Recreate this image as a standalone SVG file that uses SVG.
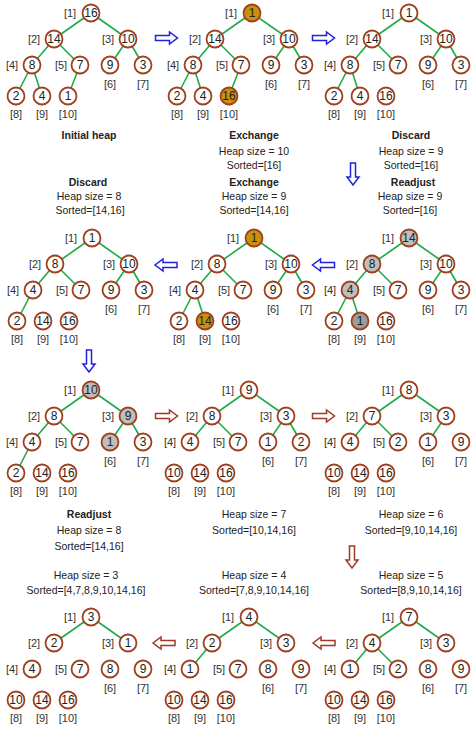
<svg xmlns="http://www.w3.org/2000/svg" xmlns:xlink="http://www.w3.org/1999/xlink" width="475" height="730" viewBox="0 0 475 730">
<style>
  text { font-family: "Liberation Sans", Arial, sans-serif; fill: #222; dominant-baseline: central; text-anchor: middle; }
  .node circle { fill: #fff; stroke: #A0401E; stroke-width: 1.8; }
  .node circle.gold { fill: #C8900C; }
  .node circle.gray { fill: #BEBEBE; }
  .node circle.dark { fill: #9C9C9C; }
  .node text { font-size: 12px; }
  .node text.idx { font-size: 11px; fill: #333; }
  .edges line { stroke: #1FAA4A; stroke-width: 1.6; }
  .cap { font-size: 10.5px; }
  .cap.b { font-weight: bold; }
  .arr-blue { fill: #fff; stroke: #2222DD; stroke-width: 1.5; }
  .arr-red { fill: #fff; stroke: #9E3B22; stroke-width: 1.5; }
</style>
<defs>
  <polygon id="blk" points="-11,-2.5 3,-2.5 3,-6 11,0 3,6 3,2.5 -11,2.5"/>
</defs>

<!-- step arrows and tree edges -->
<g id="connectors">
  <use xlink:href="#blk" class="arr-blue" transform="translate(166.5,38)"/>
  <use xlink:href="#blk" class="arr-blue" transform="translate(323.5,38)"/>
  <use xlink:href="#blk" class="arr-blue" transform="translate(353,174) rotate(90)"/>
  <use xlink:href="#blk" class="arr-blue" transform="translate(323.5,265) rotate(180)"/>
  <use xlink:href="#blk" class="arr-blue" transform="translate(166,265) rotate(180)"/>
  <use xlink:href="#blk" class="arr-blue" transform="translate(89,361) rotate(90)"/>
  <use xlink:href="#blk" class="arr-red" transform="translate(166.5,416)"/>
  <use xlink:href="#blk" class="arr-red" transform="translate(323.5,416)"/>
  <use xlink:href="#blk" class="arr-red" transform="translate(352,557) rotate(90)"/>
  <use xlink:href="#blk" class="arr-red" transform="translate(324,643) rotate(180)"/>
  <use xlink:href="#blk" class="arr-red" transform="translate(164,643) rotate(180)"/>

  <g class="edges" transform="translate(0,0)">
    <line x1="91" y1="13" x2="54" y2="39"/><line x1="91" y1="13" x2="128" y2="39"/>
    <line x1="54" y1="39" x2="32" y2="65"/><line x1="54" y1="39" x2="80" y2="65"/>
    <line x1="128" y1="39" x2="110" y2="65"/><line x1="128" y1="39" x2="143" y2="65"/>
    <line x1="32" y1="65" x2="16" y2="96"/><line x1="32" y1="65" x2="42" y2="96"/>
    <line x1="80" y1="65" x2="68" y2="96"/>
  </g>
  <g class="edges" transform="translate(161,0)">
    <line x1="91" y1="13" x2="54" y2="39"/><line x1="91" y1="13" x2="128" y2="39"/>
    <line x1="54" y1="39" x2="32" y2="65"/><line x1="54" y1="39" x2="80" y2="65"/>
    <line x1="128" y1="39" x2="110" y2="65"/><line x1="128" y1="39" x2="143" y2="65"/>
    <line x1="32" y1="65" x2="16" y2="96"/><line x1="32" y1="65" x2="42" y2="96"/>
    <line x1="80" y1="65" x2="68" y2="96"/>
  </g>
  <g class="edges" transform="translate(318,0)">
    <line x1="91" y1="13" x2="54" y2="39"/><line x1="91" y1="13" x2="128" y2="39"/>
    <line x1="54" y1="39" x2="32" y2="65"/><line x1="54" y1="39" x2="80" y2="65"/>
    <line x1="128" y1="39" x2="110" y2="65"/><line x1="128" y1="39" x2="143" y2="65"/>
    <line x1="32" y1="65" x2="16" y2="96"/><line x1="32" y1="65" x2="42" y2="96"/>
  </g>
  <g class="edges" transform="translate(1,225)">
    <line x1="91" y1="13" x2="54" y2="39"/><line x1="91" y1="13" x2="128" y2="39"/>
    <line x1="54" y1="39" x2="32" y2="65"/><line x1="54" y1="39" x2="80" y2="65"/>
    <line x1="128" y1="39" x2="110" y2="65"/><line x1="128" y1="39" x2="143" y2="65"/>
    <line x1="32" y1="65" x2="16" y2="96"/>
  </g>
  <g class="edges" transform="translate(163,225)">
    <line x1="91" y1="13" x2="54" y2="39"/><line x1="91" y1="13" x2="128" y2="39"/>
    <line x1="54" y1="39" x2="32" y2="65"/><line x1="54" y1="39" x2="80" y2="65"/>
    <line x1="128" y1="39" x2="110" y2="65"/><line x1="128" y1="39" x2="143" y2="65"/>
    <line x1="32" y1="65" x2="16" y2="96"/><line x1="32" y1="65" x2="42" y2="96"/>
  </g>
  <g class="edges" transform="translate(318,225)">
    <line x1="91" y1="13" x2="54" y2="39"/><line x1="91" y1="13" x2="128" y2="39"/>
    <line x1="54" y1="39" x2="32" y2="65"/><line x1="54" y1="39" x2="80" y2="65"/>
    <line x1="128" y1="39" x2="110" y2="65"/><line x1="128" y1="39" x2="143" y2="65"/>
    <line x1="32" y1="65" x2="16" y2="96"/><line x1="32" y1="65" x2="42" y2="96"/>
  </g>
  <g class="edges" transform="translate(0,377)">
    <line x1="91" y1="13" x2="54" y2="39"/><line x1="91" y1="13" x2="128" y2="39"/>
    <line x1="54" y1="39" x2="32" y2="65"/><line x1="54" y1="39" x2="80" y2="65"/>
    <line x1="128" y1="39" x2="110" y2="65"/><line x1="128" y1="39" x2="143" y2="65"/>
    <line x1="32" y1="65" x2="16" y2="96"/>
  </g>
  <g class="edges" transform="translate(158,377)">
    <line x1="91" y1="13" x2="54" y2="39"/><line x1="91" y1="13" x2="128" y2="39"/>
    <line x1="54" y1="39" x2="32" y2="65"/><line x1="54" y1="39" x2="80" y2="65"/>
    <line x1="128" y1="39" x2="110" y2="65"/><line x1="128" y1="39" x2="143" y2="65"/>
  </g>
  <g class="edges" transform="translate(318,377)">
    <line x1="91" y1="13" x2="54" y2="39"/><line x1="91" y1="13" x2="128" y2="39"/>
    <line x1="54" y1="39" x2="32" y2="65"/><line x1="54" y1="39" x2="80" y2="65"/>
    <line x1="128" y1="39" x2="110" y2="65"/>
  </g>
  <g class="edges" transform="translate(318,604)">
    <line x1="91" y1="13" x2="54" y2="39"/><line x1="91" y1="13" x2="128" y2="39"/>
    <line x1="54" y1="39" x2="32" y2="65"/><line x1="54" y1="39" x2="80" y2="65"/>
  </g>
  <g class="edges" transform="translate(158,604)">
    <line x1="91" y1="13" x2="54" y2="39"/><line x1="91" y1="13" x2="128" y2="39"/>
    <line x1="54" y1="39" x2="32" y2="65"/>
  </g>
  <g class="edges" transform="translate(0,604)">
    <line x1="91" y1="13" x2="54" y2="39"/><line x1="91" y1="13" x2="128" y2="39"/>
  </g>
</g>

<!-- Initial heap -->
<g id="heap-a" transform="translate(0,0)">
  <g class="node" id="a1"><text class="idx" x="70" y="13">[1]</text><circle cx="91" cy="13" r="8.5"/><text x="91" y="13">16</text></g>
  <g class="node" id="a2"><text class="idx" x="34" y="39">[2]</text><circle cx="54" cy="39" r="8.5"/><text x="54" y="39">14</text></g>
  <g class="node" id="a3"><text class="idx" x="108" y="39">[3]</text><circle cx="128" cy="39" r="8.5"/><text x="128" y="39">10</text></g>
  <g class="node" id="a4"><text class="idx" x="12" y="65">[4]</text><circle cx="32" cy="65" r="8.5"/><text x="32" y="65">8</text></g>
  <g class="node" id="a5"><text class="idx" x="61" y="65">[5]</text><circle cx="80" cy="65" r="8.5"/><text x="80" y="65">7</text></g>
  <g class="node" id="a6"><circle cx="110" cy="65" r="8.5"/><text x="110" y="65">9</text><text class="idx" x="110" y="84">[6]</text></g>
  <g class="node" id="a7"><circle cx="143" cy="65" r="8.5"/><text x="143" y="65">3</text><text class="idx" x="143" y="84">[7]</text></g>
  <g class="node" id="a8"><circle cx="16" cy="96" r="8.5"/><text x="16" y="96">2</text><text class="idx" x="16" y="114">[8]</text></g>
  <g class="node" id="a9"><circle cx="42" cy="96" r="8.5"/><text x="42" y="96">4</text><text class="idx" x="42" y="114">[9]</text></g>
  <g class="node" id="a10"><circle cx="68" cy="96" r="8.5"/><text x="68" y="96">1</text><text class="idx" x="68" y="114">[10]</text></g>
</g>

<!-- Exchange, heap size 10 -->
<g id="heap-b" transform="translate(161,0)">
  <g class="node" id="b1"><text class="idx" x="70" y="13">[1]</text><circle class="gold" cx="91" cy="13" r="8.5"/><text x="91" y="13">1</text></g>
  <g class="node" id="b2"><text class="idx" x="34" y="39">[2]</text><circle cx="54" cy="39" r="8.5"/><text x="54" y="39">14</text></g>
  <g class="node" id="b3"><text class="idx" x="108" y="39">[3]</text><circle cx="128" cy="39" r="8.5"/><text x="128" y="39">10</text></g>
  <g class="node" id="b4"><text class="idx" x="12" y="65">[4]</text><circle cx="32" cy="65" r="8.5"/><text x="32" y="65">8</text></g>
  <g class="node" id="b5"><text class="idx" x="61" y="65">[5]</text><circle cx="80" cy="65" r="8.5"/><text x="80" y="65">7</text></g>
  <g class="node" id="b6"><circle cx="110" cy="65" r="8.5"/><text x="110" y="65">9</text><text class="idx" x="110" y="84">[6]</text></g>
  <g class="node" id="b7"><circle cx="143" cy="65" r="8.5"/><text x="143" y="65">3</text><text class="idx" x="143" y="84">[7]</text></g>
  <g class="node" id="b8"><circle cx="16" cy="96" r="8.5"/><text x="16" y="96">2</text><text class="idx" x="16" y="114">[8]</text></g>
  <g class="node" id="b9"><circle cx="42" cy="96" r="8.5"/><text x="42" y="96">4</text><text class="idx" x="42" y="114">[9]</text></g>
  <g class="node" id="b10"><circle class="gold" cx="68" cy="96" r="8.5"/><text x="68" y="96">16</text><text class="idx" x="68" y="114">[10]</text></g>
</g>

<!-- Discard, heap size 9 -->
<g id="heap-c" transform="translate(318,0)">
  <g class="node" id="c1"><text class="idx" x="70" y="13">[1]</text><circle cx="91" cy="13" r="8.5"/><text x="91" y="13">1</text></g>
  <g class="node" id="c2"><text class="idx" x="34" y="39">[2]</text><circle cx="54" cy="39" r="8.5"/><text x="54" y="39">14</text></g>
  <g class="node" id="c3"><text class="idx" x="108" y="39">[3]</text><circle cx="128" cy="39" r="8.5"/><text x="128" y="39">10</text></g>
  <g class="node" id="c4"><text class="idx" x="12" y="65">[4]</text><circle cx="32" cy="65" r="8.5"/><text x="32" y="65">8</text></g>
  <g class="node" id="c5"><text class="idx" x="61" y="65">[5]</text><circle cx="80" cy="65" r="8.5"/><text x="80" y="65">7</text></g>
  <g class="node" id="c6"><circle cx="110" cy="65" r="8.5"/><text x="110" y="65">9</text><text class="idx" x="110" y="84">[6]</text></g>
  <g class="node" id="c7"><circle cx="143" cy="65" r="8.5"/><text x="143" y="65">3</text><text class="idx" x="143" y="84">[7]</text></g>
  <g class="node" id="c8"><circle cx="16" cy="96" r="8.5"/><text x="16" y="96">2</text><text class="idx" x="16" y="114">[8]</text></g>
  <g class="node" id="c9"><circle cx="42" cy="96" r="8.5"/><text x="42" y="96">4</text><text class="idx" x="42" y="114">[9]</text></g>
  <g class="node" id="c10"><circle cx="68" cy="96" r="8.5"/><text x="68" y="96">16</text><text class="idx" x="68" y="114">[10]</text></g>
</g>

<!-- Readjust, heap size 9 -->
<g id="heap-d" transform="translate(318,225)">
  <g class="node" id="d1"><text class="idx" x="70" y="13">[1]</text><circle class="gray" cx="91" cy="13" r="8.5"/><text x="91" y="13">14</text></g>
  <g class="node" id="d2"><text class="idx" x="34" y="39">[2]</text><circle class="gray" cx="54" cy="39" r="8.5"/><text x="54" y="39">8</text></g>
  <g class="node" id="d3"><text class="idx" x="108" y="39">[3]</text><circle cx="128" cy="39" r="8.5"/><text x="128" y="39">10</text></g>
  <g class="node" id="d4"><text class="idx" x="12" y="65">[4]</text><circle class="gray" cx="32" cy="65" r="8.5"/><text x="32" y="65">4</text></g>
  <g class="node" id="d5"><text class="idx" x="61" y="65">[5]</text><circle cx="80" cy="65" r="8.5"/><text x="80" y="65">7</text></g>
  <g class="node" id="d6"><circle cx="110" cy="65" r="8.5"/><text x="110" y="65">9</text><text class="idx" x="110" y="84">[6]</text></g>
  <g class="node" id="d7"><circle cx="143" cy="65" r="8.5"/><text x="143" y="65">3</text><text class="idx" x="143" y="84">[7]</text></g>
  <g class="node" id="d8"><circle cx="16" cy="96" r="8.5"/><text x="16" y="96">2</text><text class="idx" x="16" y="114">[8]</text></g>
  <g class="node" id="d9"><circle class="dark" cx="42" cy="96" r="8.5"/><text x="42" y="96">1</text><text class="idx" x="42" y="114">[9]</text></g>
  <g class="node" id="d10"><circle cx="68" cy="96" r="8.5"/><text x="68" y="96">16</text><text class="idx" x="68" y="114">[10]</text></g>
</g>

<!-- Exchange, heap size 9 -->
<g id="heap-e" transform="translate(163,225)">
  <g class="node" id="e1"><text class="idx" x="70" y="13">[1]</text><circle class="gold" cx="91" cy="13" r="8.5"/><text x="91" y="13">1</text></g>
  <g class="node" id="e2"><text class="idx" x="34" y="39">[2]</text><circle cx="54" cy="39" r="8.5"/><text x="54" y="39">8</text></g>
  <g class="node" id="e3"><text class="idx" x="108" y="39">[3]</text><circle cx="128" cy="39" r="8.5"/><text x="128" y="39">10</text></g>
  <g class="node" id="e4"><text class="idx" x="12" y="65">[4]</text><circle cx="32" cy="65" r="8.5"/><text x="32" y="65">4</text></g>
  <g class="node" id="e5"><text class="idx" x="61" y="65">[5]</text><circle cx="80" cy="65" r="8.5"/><text x="80" y="65">7</text></g>
  <g class="node" id="e6"><circle cx="110" cy="65" r="8.5"/><text x="110" y="65">9</text><text class="idx" x="110" y="84">[6]</text></g>
  <g class="node" id="e7"><circle cx="143" cy="65" r="8.5"/><text x="143" y="65">3</text><text class="idx" x="143" y="84">[7]</text></g>
  <g class="node" id="e8"><circle cx="16" cy="96" r="8.5"/><text x="16" y="96">2</text><text class="idx" x="16" y="114">[8]</text></g>
  <g class="node" id="e9"><circle class="gold" cx="42" cy="96" r="8.5"/><text x="42" y="96">14</text><text class="idx" x="42" y="114">[9]</text></g>
  <g class="node" id="e10"><circle cx="68" cy="96" r="8.5"/><text x="68" y="96">16</text><text class="idx" x="68" y="114">[10]</text></g>
</g>

<!-- Discard, heap size 8 -->
<g id="heap-f" transform="translate(1,225)">
  <g class="node" id="f1"><text class="idx" x="70" y="13">[1]</text><circle cx="91" cy="13" r="8.5"/><text x="91" y="13">1</text></g>
  <g class="node" id="f2"><text class="idx" x="34" y="39">[2]</text><circle cx="54" cy="39" r="8.5"/><text x="54" y="39">8</text></g>
  <g class="node" id="f3"><text class="idx" x="108" y="39">[3]</text><circle cx="128" cy="39" r="8.5"/><text x="128" y="39">10</text></g>
  <g class="node" id="f4"><text class="idx" x="12" y="65">[4]</text><circle cx="32" cy="65" r="8.5"/><text x="32" y="65">4</text></g>
  <g class="node" id="f5"><text class="idx" x="61" y="65">[5]</text><circle cx="80" cy="65" r="8.5"/><text x="80" y="65">7</text></g>
  <g class="node" id="f6"><circle cx="110" cy="65" r="8.5"/><text x="110" y="65">9</text><text class="idx" x="110" y="84">[6]</text></g>
  <g class="node" id="f7"><circle cx="143" cy="65" r="8.5"/><text x="143" y="65">3</text><text class="idx" x="143" y="84">[7]</text></g>
  <g class="node" id="f8"><circle cx="16" cy="96" r="8.5"/><text x="16" y="96">2</text><text class="idx" x="16" y="114">[8]</text></g>
  <g class="node" id="f9"><circle cx="42" cy="96" r="8.5"/><text x="42" y="96">14</text><text class="idx" x="42" y="114">[9]</text></g>
  <g class="node" id="f10"><circle cx="68" cy="96" r="8.5"/><text x="68" y="96">16</text><text class="idx" x="68" y="114">[10]</text></g>
</g>

<!-- Readjust, heap size 8 -->
<g id="heap-g" transform="translate(0,377)">
  <g class="node" id="g1"><text class="idx" x="70" y="13">[1]</text><circle class="gray" cx="91" cy="13" r="8.5"/><text x="91" y="13">10</text></g>
  <g class="node" id="g2"><text class="idx" x="34" y="39">[2]</text><circle cx="54" cy="39" r="8.5"/><text x="54" y="39">8</text></g>
  <g class="node" id="g3"><text class="idx" x="108" y="39">[3]</text><circle class="gray" cx="128" cy="39" r="8.5"/><text x="128" y="39">9</text></g>
  <g class="node" id="g4"><text class="idx" x="12" y="65">[4]</text><circle cx="32" cy="65" r="8.5"/><text x="32" y="65">4</text></g>
  <g class="node" id="g5"><text class="idx" x="61" y="65">[5]</text><circle cx="80" cy="65" r="8.5"/><text x="80" y="65">7</text></g>
  <g class="node" id="g6"><circle class="gray" cx="110" cy="65" r="8.5"/><text x="110" y="65">1</text><text class="idx" x="110" y="84">[6]</text></g>
  <g class="node" id="g7"><circle cx="143" cy="65" r="8.5"/><text x="143" y="65">3</text><text class="idx" x="143" y="84">[7]</text></g>
  <g class="node" id="g8"><circle cx="16" cy="96" r="8.5"/><text x="16" y="96">2</text><text class="idx" x="16" y="114">[8]</text></g>
  <g class="node" id="g9"><circle cx="42" cy="96" r="8.5"/><text x="42" y="96">14</text><text class="idx" x="42" y="114">[9]</text></g>
  <g class="node" id="g10"><circle cx="68" cy="96" r="8.5"/><text x="68" y="96">16</text><text class="idx" x="68" y="114">[10]</text></g>
</g>

<!-- heap size 7 -->
<g id="heap-h" transform="translate(158,377)">
  <g class="node" id="h1"><text class="idx" x="70" y="13">[1]</text><circle cx="91" cy="13" r="8.5"/><text x="91" y="13">9</text></g>
  <g class="node" id="h2"><text class="idx" x="34" y="39">[2]</text><circle cx="54" cy="39" r="8.5"/><text x="54" y="39">8</text></g>
  <g class="node" id="h3"><text class="idx" x="108" y="39">[3]</text><circle cx="128" cy="39" r="8.5"/><text x="128" y="39">3</text></g>
  <g class="node" id="h4"><text class="idx" x="12" y="65">[4]</text><circle cx="32" cy="65" r="8.5"/><text x="32" y="65">4</text></g>
  <g class="node" id="h5"><text class="idx" x="61" y="65">[5]</text><circle cx="80" cy="65" r="8.5"/><text x="80" y="65">7</text></g>
  <g class="node" id="h6"><circle cx="110" cy="65" r="8.5"/><text x="110" y="65">1</text><text class="idx" x="110" y="84">[6]</text></g>
  <g class="node" id="h7"><circle cx="143" cy="65" r="8.5"/><text x="143" y="65">2</text><text class="idx" x="143" y="84">[7]</text></g>
  <g class="node" id="h8"><circle cx="16" cy="96" r="8.5"/><text x="16" y="96">10</text><text class="idx" x="16" y="114">[8]</text></g>
  <g class="node" id="h9"><circle cx="42" cy="96" r="8.5"/><text x="42" y="96">14</text><text class="idx" x="42" y="114">[9]</text></g>
  <g class="node" id="h10"><circle cx="68" cy="96" r="8.5"/><text x="68" y="96">16</text><text class="idx" x="68" y="114">[10]</text></g>
</g>

<!-- heap size 6 -->
<g id="heap-i" transform="translate(318,377)">
  <g class="node" id="i1"><text class="idx" x="70" y="13">[1]</text><circle cx="91" cy="13" r="8.5"/><text x="91" y="13">8</text></g>
  <g class="node" id="i2"><text class="idx" x="34" y="39">[2]</text><circle cx="54" cy="39" r="8.5"/><text x="54" y="39">7</text></g>
  <g class="node" id="i3"><text class="idx" x="108" y="39">[3]</text><circle cx="128" cy="39" r="8.5"/><text x="128" y="39">3</text></g>
  <g class="node" id="i4"><text class="idx" x="12" y="65">[4]</text><circle cx="32" cy="65" r="8.5"/><text x="32" y="65">4</text></g>
  <g class="node" id="i5"><text class="idx" x="61" y="65">[5]</text><circle cx="80" cy="65" r="8.5"/><text x="80" y="65">2</text></g>
  <g class="node" id="i6"><circle cx="110" cy="65" r="8.5"/><text x="110" y="65">1</text><text class="idx" x="110" y="84">[6]</text></g>
  <g class="node" id="i7"><circle cx="143" cy="65" r="8.5"/><text x="143" y="65">9</text><text class="idx" x="143" y="84">[7]</text></g>
  <g class="node" id="i8"><circle cx="16" cy="96" r="8.5"/><text x="16" y="96">10</text><text class="idx" x="16" y="114">[8]</text></g>
  <g class="node" id="i9"><circle cx="42" cy="96" r="8.5"/><text x="42" y="96">14</text><text class="idx" x="42" y="114">[9]</text></g>
  <g class="node" id="i10"><circle cx="68" cy="96" r="8.5"/><text x="68" y="96">16</text><text class="idx" x="68" y="114">[10]</text></g>
</g>

<!-- heap size 5 -->
<g id="heap-j" transform="translate(318,604)">
  <g class="node" id="j1"><text class="idx" x="70" y="13">[1]</text><circle cx="91" cy="13" r="8.5"/><text x="91" y="13">7</text></g>
  <g class="node" id="j2"><text class="idx" x="34" y="39">[2]</text><circle cx="54" cy="39" r="8.5"/><text x="54" y="39">4</text></g>
  <g class="node" id="j3"><text class="idx" x="108" y="39">[3]</text><circle cx="128" cy="39" r="8.5"/><text x="128" y="39">3</text></g>
  <g class="node" id="j4"><text class="idx" x="12" y="65">[4]</text><circle cx="32" cy="65" r="8.5"/><text x="32" y="65">1</text></g>
  <g class="node" id="j5"><text class="idx" x="61" y="65">[5]</text><circle cx="80" cy="65" r="8.5"/><text x="80" y="65">2</text></g>
  <g class="node" id="j6"><circle cx="110" cy="65" r="8.5"/><text x="110" y="65">8</text><text class="idx" x="110" y="84">[6]</text></g>
  <g class="node" id="j7"><circle cx="143" cy="65" r="8.5"/><text x="143" y="65">9</text><text class="idx" x="143" y="84">[7]</text></g>
  <g class="node" id="j8"><circle cx="16" cy="96" r="8.5"/><text x="16" y="96">10</text><text class="idx" x="16" y="114">[8]</text></g>
  <g class="node" id="j9"><circle cx="42" cy="96" r="8.5"/><text x="42" y="96">14</text><text class="idx" x="42" y="114">[9]</text></g>
  <g class="node" id="j10"><circle cx="68" cy="96" r="8.5"/><text x="68" y="96">16</text><text class="idx" x="68" y="114">[10]</text></g>
</g>

<!-- heap size 4 -->
<g id="heap-k" transform="translate(158,604)">
  <g class="node" id="k1"><text class="idx" x="70" y="13">[1]</text><circle cx="91" cy="13" r="8.5"/><text x="91" y="13">4</text></g>
  <g class="node" id="k2"><text class="idx" x="34" y="39">[2]</text><circle cx="54" cy="39" r="8.5"/><text x="54" y="39">2</text></g>
  <g class="node" id="k3"><text class="idx" x="108" y="39">[3]</text><circle cx="128" cy="39" r="8.5"/><text x="128" y="39">3</text></g>
  <g class="node" id="k4"><text class="idx" x="12" y="65">[4]</text><circle cx="32" cy="65" r="8.5"/><text x="32" y="65">1</text></g>
  <g class="node" id="k5"><text class="idx" x="61" y="65">[5]</text><circle cx="80" cy="65" r="8.5"/><text x="80" y="65">7</text></g>
  <g class="node" id="k6"><circle cx="110" cy="65" r="8.5"/><text x="110" y="65">8</text><text class="idx" x="110" y="84">[6]</text></g>
  <g class="node" id="k7"><circle cx="143" cy="65" r="8.5"/><text x="143" y="65">9</text><text class="idx" x="143" y="84">[7]</text></g>
  <g class="node" id="k8"><circle cx="16" cy="96" r="8.5"/><text x="16" y="96">10</text><text class="idx" x="16" y="114">[8]</text></g>
  <g class="node" id="k9"><circle cx="42" cy="96" r="8.5"/><text x="42" y="96">14</text><text class="idx" x="42" y="114">[9]</text></g>
  <g class="node" id="k10"><circle cx="68" cy="96" r="8.5"/><text x="68" y="96">16</text><text class="idx" x="68" y="114">[10]</text></g>
</g>

<!-- heap size 3 -->
<g id="heap-l" transform="translate(0,604)">
  <g class="node" id="l1"><text class="idx" x="70" y="13">[1]</text><circle cx="91" cy="13" r="8.5"/><text x="91" y="13">3</text></g>
  <g class="node" id="l2"><text class="idx" x="34" y="39">[2]</text><circle cx="54" cy="39" r="8.5"/><text x="54" y="39">2</text></g>
  <g class="node" id="l3"><text class="idx" x="108" y="39">[3]</text><circle cx="128" cy="39" r="8.5"/><text x="128" y="39">1</text></g>
  <g class="node" id="l4"><text class="idx" x="12" y="65">[4]</text><circle cx="32" cy="65" r="8.5"/><text x="32" y="65">4</text></g>
  <g class="node" id="l5"><text class="idx" x="61" y="65">[5]</text><circle cx="80" cy="65" r="8.5"/><text x="80" y="65">7</text></g>
  <g class="node" id="l6"><circle cx="110" cy="65" r="8.5"/><text x="110" y="65">8</text><text class="idx" x="110" y="84">[6]</text></g>
  <g class="node" id="l7"><circle cx="143" cy="65" r="8.5"/><text x="143" y="65">9</text><text class="idx" x="143" y="84">[7]</text></g>
  <g class="node" id="l8"><circle cx="16" cy="96" r="8.5"/><text x="16" y="96">10</text><text class="idx" x="16" y="114">[8]</text></g>
  <g class="node" id="l9"><circle cx="42" cy="96" r="8.5"/><text x="42" y="96">14</text><text class="idx" x="42" y="114">[9]</text></g>
  <g class="node" id="l10"><circle cx="68" cy="96" r="8.5"/><text x="68" y="96">16</text><text class="idx" x="68" y="114">[10]</text></g>
</g>

<!-- step captions -->
<g id="captions">
  <text class="cap b" x="89" y="135">Initial heap</text>

  <text class="cap b" x="254" y="135">Exchange</text>
  <text class="cap" x="254" y="151">Heap size = 10</text>
  <text class="cap" x="254" y="165">Sorted=[16]</text>

  <text class="cap b" x="411" y="135">Discard</text>
  <text class="cap" x="411" y="151">Heap size = 9</text>
  <text class="cap" x="411" y="165">Sorted=[16]</text>

  <text class="cap b" x="88" y="182">Discard</text>
  <text class="cap" x="89" y="196">Heap size = 8</text>
  <text class="cap" x="90" y="210">Sorted=[14,16]</text>

  <text class="cap b" x="254" y="182">Exchange</text>
  <text class="cap" x="254" y="196">Heap size = 9</text>
  <text class="cap" x="254" y="210">Sorted=[14,16]</text>

  <text class="cap b" x="413" y="182">Readjust</text>
  <text class="cap" x="410" y="196">Heap size = 9</text>
  <text class="cap" x="410" y="210">Sorted=[16]</text>

  <text class="cap b" x="89" y="514">Readjust</text>
  <text class="cap" x="89" y="530">Heap size = 8</text>
  <text class="cap" x="89" y="546">Sorted=[14,16]</text>

  <text class="cap" x="254" y="514">Heap size = 7</text>
  <text class="cap" x="254" y="530">Sorted=[10,14,16]</text>

  <text class="cap" x="411" y="514">Heap size = 6</text>
  <text class="cap" x="411" y="530">Sorted=[9,10,14,16]</text>

  <text class="cap" x="86" y="575">Heap size = 3</text>
  <text class="cap" x="86" y="590">Sorted=[4,7,8,9,10,14,16]</text>

  <text class="cap" x="254" y="575">Heap size = 4</text>
  <text class="cap" x="254" y="590">Sorted=[7,8,9,10,14,16]</text>

  <text class="cap" x="411" y="575">Heap size = 5</text>
  <text class="cap" x="411" y="590">Sorted=[8,9,10,14,16]</text>
</g>
</svg>
